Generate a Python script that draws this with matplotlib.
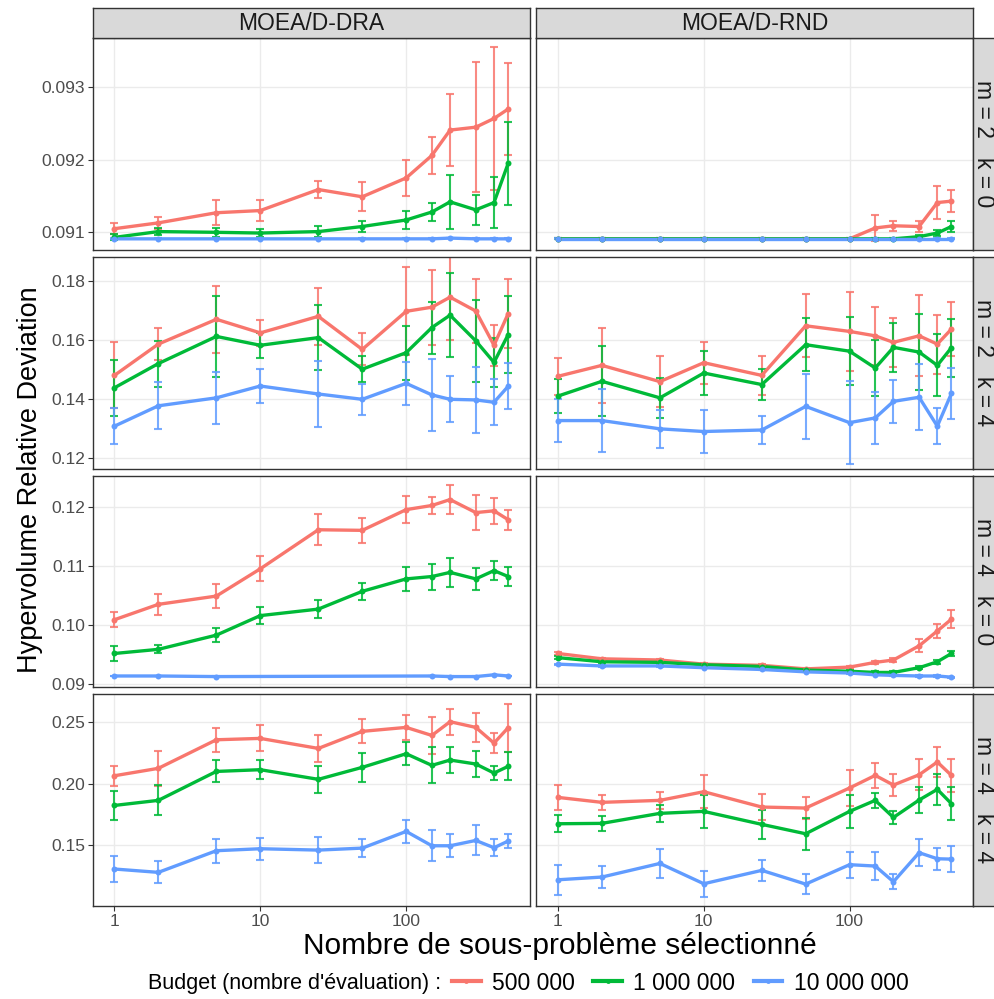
import numpy as np
import matplotlib
matplotlib.use("Agg")
import matplotlib.pyplot as plt
from matplotlib.lines import Line2D

plt.rcParams['font.family'] = ['Liberation Sans', 'DejaVu Sans']

# ---------------- data ----------------
x_values = [1, 2, 5, 10, 25, 50, 100, 150, 200, 300, 400, 500]
budgets = ["500 000", "1 000 000", "10 000 000"]
colors = ["#F8766D", "#00BA38", "#619CFF"]
algorithms = ["MOEA/D-DRA", "MOEA/D-RND"]
row_labels = ["m = 2   k = 0", "m = 2   k = 4", "m = 4   k = 0", "m = 4   k = 4"]

# m=2 k=0
dra_m2k0 = [
    [0.09105, 0.09113, 0.09127, 0.09130, 0.09159, 0.09149, 0.09175, 0.09206, 0.09241, 0.09245, 0.09257, 0.09270],
    [0.09093, 0.09101, 0.09100, 0.09099, 0.09101, 0.09108, 0.09117, 0.09128, 0.09142, 0.09131, 0.09141, 0.09195],
    [0.09091, 0.09091, 0.09091, 0.09091, 0.09091, 0.09091, 0.09091, 0.09091, 0.09092, 0.09091, 0.09091, 0.09091],
]
dra_m2k0_sd = [
    [0.00008, 0.00008, 0.00017, 0.00014, 0.00012, 0.00020, 0.00025, 0.00025, 0.00050, 0.00090, 0.00098, 0.00064],
    [0.00004, 0.00005, 0.00006, 0.00006, 0.00008, 0.00008, 0.00013, 0.00012, 0.00037, 0.00021, 0.00035, 0.00057],
    [0.000005, 0.000005, 0.000005, 0.000005, 0.000005, 0.000005, 0.000005, 0.000005, 0.000005, 0.000005, 0.000005, 0.000005],
]
rnd_m2k0 = [
    [0.09091, 0.09091, 0.09091, 0.09091, 0.09091, 0.09091, 0.09091, 0.09106, 0.09109, 0.09108, 0.09141, 0.09143],
    [0.09091, 0.09091, 0.09091, 0.09091, 0.09091, 0.09091, 0.09091, 0.09091, 0.09091, 0.09094, 0.09099, 0.09108],
    [0.09091, 0.09091, 0.09091, 0.09091, 0.09091, 0.09091, 0.09091, 0.09091, 0.09091, 0.09091, 0.09091, 0.09091],
]
rnd_m2k0_sd = [
    [0.000005, 0.000005, 0.000005, 0.000005, 0.000005, 0.000005, 0.000005, 0.00018, 0.00007, 0.00008, 0.00023, 0.00015],
    [0.000005, 0.000005, 0.000005, 0.000005, 0.000005, 0.000005, 0.000005, 0.00001, 0.00001, 0.00002, 0.00004, 0.00008],
    [0.000005, 0.000005, 0.000005, 0.000005, 0.000005, 0.000005, 0.000005, 0.000005, 0.000005, 0.000005, 0.000005, 0.000005],
]
# m=2 k=4
dra_m2k4 = [
    [0.1480, 0.1586, 0.1670, 0.1624, 0.1680, 0.1568, 0.1697, 0.1711, 0.1745, 0.1698, 0.1582, 0.1689],
    [0.1438, 0.1520, 0.1612, 0.1582, 0.1608, 0.1501, 0.1557, 0.1642, 0.1684, 0.1597, 0.1524, 0.1618],
    [0.1308, 0.1377, 0.1404, 0.1444, 0.1417, 0.1399, 0.1453, 0.1414, 0.1399, 0.1397, 0.1389, 0.1443],
]
dra_m2k4_sd = [
    [0.0112, 0.0054, 0.0114, 0.0043, 0.0097, 0.0054, 0.0149, 0.0127, 0.0144, 0.0108, 0.0070, 0.0117],
    [0.0094, 0.0078, 0.0136, 0.0043, 0.0111, 0.0045, 0.0092, 0.0088, 0.0142, 0.0139, 0.0083, 0.0130],
    [0.0062, 0.0080, 0.0087, 0.0058, 0.0111, 0.0052, 0.0073, 0.0122, 0.0078, 0.0112, 0.0078, 0.0078],
]
rnd_m2k4 = [
    [0.1477, 0.1514, 0.1459, 0.1523, 0.1480, 0.1648, 0.1629, 0.1614, 0.1592, 0.1614, 0.1586, 0.1637],
    [0.1410, 0.1460, 0.1404, 0.1488, 0.1449, 0.1584, 0.1562, 0.1505, 0.1575, 0.1559, 0.1514, 0.1574],
    [0.1327, 0.1327, 0.1299, 0.1290, 0.1295, 0.1375, 0.1320, 0.1336, 0.1392, 0.1406, 0.1308, 0.1419],
]
rnd_m2k4_sd = [
    [0.0062, 0.0126, 0.0086, 0.0071, 0.0065, 0.0106, 0.0133, 0.0099, 0.0084, 0.0137, 0.0100, 0.0092],
    [0.0059, 0.0118, 0.0067, 0.0075, 0.0051, 0.0089, 0.0116, 0.0095, 0.0083, 0.0128, 0.0105, 0.0098],
    [0.0074, 0.0106, 0.0065, 0.0074, 0.0048, 0.0110, 0.0141, 0.0089, 0.0073, 0.0112, 0.0061, 0.0085],
]
# m=4 k=0
dra_m4k0 = [
    [0.1009, 0.1035, 0.1049, 0.1095, 0.1161, 0.1160, 0.1195, 0.1202, 0.1212, 0.1190, 0.1193, 0.1178],
    [0.0952, 0.0959, 0.0983, 0.1016, 0.1027, 0.1057, 0.1078, 0.1082, 0.1089, 0.1078, 0.1092, 0.1082],
    [0.0914, 0.0914, 0.0913, np.nan, np.nan, np.nan, np.nan, 0.0914, 0.0913, 0.0913, 0.0916, 0.0914],
]
dra_m4k0_sd = [
    [0.0013, 0.0018, 0.0020, 0.0021, 0.0026, 0.0021, 0.0023, 0.0015, 0.0025, 0.0030, 0.0022, 0.0017],
    [0.0012, 0.0007, 0.0012, 0.0015, 0.0015, 0.0014, 0.0020, 0.0022, 0.0025, 0.0019, 0.0016, 0.0016],
    [0.00005, 0.00005, 0.00005, np.nan, np.nan, np.nan, np.nan, 0.00005, 0.00005, 0.00005, 0.00005, 0.00005],
]
rnd_m4k0 = [
    [0.0952, 0.0943, 0.0941, 0.0934, 0.0932, 0.0926, 0.0929, 0.0937, 0.0941, 0.0965, 0.0990, 0.1010],
    [0.0945, 0.0938, 0.0937, 0.0933, 0.0930, 0.0924, 0.0922, 0.0920, 0.0920, 0.0928, 0.0938, 0.0952],
    [0.0934, 0.0931, 0.0931, 0.0928, 0.0925, 0.0921, 0.0919, 0.0916, 0.0915, 0.0914, 0.0914, 0.0912],
]
rnd_m4k0_sd = [
    [0.0002, 0.0002, 0.0002, 0.0002, 0.0002, 0.0002, 0.0002, 0.0003, 0.0004, 0.0011, 0.0012, 0.0015],
    [0.0002, 0.0002, 0.0002, 0.0002, 0.0002, 0.0002, 0.0002, 0.0002, 0.0002, 0.0003, 0.0003, 0.0004],
    [0.0001, 0.0001, 0.0001, 0.0001, 0.0001, 0.0001, 0.0001, 0.0001, 0.0001, 0.0001, 0.0001, 0.0001],
]
# m=4 k=4
dra_m4k4 = [
    [0.2063, 0.2123, 0.2354, 0.2365, 0.2284, 0.2422, 0.2454, 0.2389, 0.2500, 0.2454, 0.2327, 0.2451],
    [0.1823, 0.1864, 0.2098, 0.2112, 0.2034, 0.2131, 0.2241, 0.2147, 0.2190, 0.2158, 0.2085, 0.2139],
    [0.1309, 0.1282, 0.1457, 0.1473, 0.1462, 0.1478, 0.1613, 0.1497, 0.1497, 0.1540, 0.1481, 0.1535],
]
dra_m4k4_sd = [
    [0.0081, 0.0141, 0.0098, 0.0105, 0.0110, 0.0097, 0.0100, 0.0148, 0.0105, 0.0116, 0.0082, 0.0194],
    [0.0115, 0.0121, 0.0089, 0.0075, 0.0110, 0.0118, 0.0094, 0.0146, 0.0106, 0.0105, 0.0057, 0.0113],
    [0.0108, 0.0089, 0.0098, 0.0089, 0.0105, 0.0075, 0.0096, 0.0124, 0.0094, 0.0121, 0.0067, 0.0057],
]
rnd_m4k4 = [
    [0.1888, 0.1848, 0.1864, 0.1934, 0.1810, 0.1802, 0.1964, 0.2066, 0.1988, 0.2071, 0.2174, 0.2066],
    [0.1675, 0.1678, 0.1759, 0.1775, 0.1670, 0.1594, 0.1775, 0.1864, 0.1726, 0.1867, 0.1953, 0.1837],
    [0.1222, 0.1244, 0.1354, 0.1190, 0.1298, 0.1187, 0.1344, 0.1333, 0.1206, 0.1441, 0.1392, 0.1389],
]
rnd_m4k4_sd = [
    [0.0104, 0.0058, 0.0066, 0.0135, 0.0105, 0.0091, 0.0143, 0.0102, 0.0089, 0.0125, 0.0121, 0.0132],
    [0.0070, 0.0059, 0.0069, 0.0136, 0.0115, 0.0131, 0.0136, 0.0062, 0.0049, 0.0108, 0.0124, 0.0133],
    [0.0121, 0.0092, 0.0116, 0.0105, 0.0086, 0.0078, 0.0106, 0.0111, 0.0060, 0.0110, 0.0089, 0.0108],
]

row_ticks = [[0.091, 0.092, 0.093], [0.12, 0.14, 0.16, 0.18],
             [0.09, 0.10, 0.11, 0.12], [0.15, 0.20, 0.25]]
row_ticklabels = [["0.091", "0.092", "0.093"], ["0.12", "0.14", "0.16", "0.18"],
                  ["0.09", "0.10", "0.11", "0.12"], ["0.15", "0.20", "0.25"]]
row_ylims = [(0.090756, 0.09368), (0.1163, 0.1881), (0.08954, 0.12518), (0.101, 0.2724)]
x_ticks = [1, 10, 100]
x_ticklabels = ["1", "10", "100"]

panels = [
    [(dra_m2k0, dra_m2k0_sd), (rnd_m2k0, rnd_m2k0_sd)],
    [(dra_m2k4, dra_m2k4_sd), (rnd_m2k4, rnd_m2k4_sd)],
    [(dra_m4k0, dra_m4k0_sd), (rnd_m4k0, rnd_m4k0_sd)],
    [(dra_m4k4, dra_m4k4_sd), (rnd_m4k4, rnd_m4k4_sd)],
]

# ---------------- layout ----------------
W, H = 995, 999
fig = plt.figure(figsize=(W / 100, H / 100), dpi=100)
fig.patch.set_facecolor("white")

def rect(x0, y0, x1, y1):
    return [x0 / W, 1 - y1 / H, (x1 - x0) / W, (y1 - y0) / H]

col_x = [(92.7, 530.0), (536.3, 973.3)]
row_y = [(38, 250), (257, 469), (476, 687), (694, 906)]
strip_top = (8, 38)
strip_right = (973.3, 995)

dark = "#333333"
tickc = "#4D4D4D"
grid = "#EBEBEB"
stripfill = "#D9D9D9"

xs = np.array(x_values, dtype=float)

for r in range(4):
    for c in range(2):
        ax = fig.add_axes(rect(col_x[c][0], row_y[r][0], col_x[c][1], row_y[r][1]))
        ax.set_xscale("log")
        ax.set_xlim(0.71, 706)
        ax.set_ylim(*row_ylims[r])
        ax.set_facecolor("white")
        ax.grid(True, which="major", color=grid, linewidth=1.0)
        ax.set_axisbelow(True)
        ax.minorticks_off()
        ax.set_xticks(x_ticks)
        ax.set_yticks(row_ticks[r])
        for sp in ax.spines.values():
            sp.set_color(dark)
            sp.set_linewidth(1.0)
        ax.tick_params(axis="both", which="major", length=3.5, width=0.8, color=dark,
                       labelcolor=tickc, labelsize=12.5, pad=2)
        if r == 3:
            ax.set_xticklabels(x_ticklabels)
        else:
            ax.tick_params(axis="x", labelbottom=False, length=0)
        if c == 0:
            ax.set_yticklabels(row_ticklabels[r])
        else:
            ax.tick_params(axis="y", labelleft=False, length=0)

        means, sds = panels[r][c]
        # error bars
        for i in range(3):
            m = np.array(means[i], dtype=float)
            s = np.array(sds[i], dtype=float)
            ok = ~np.isnan(m)
            ax.errorbar(xs[ok], m[ok], yerr=s[ok], fmt="none", ecolor=colors[i],
                        elinewidth=1.5, capsize=3.2, capthick=1.5, alpha=0.85, zorder=2)
        # lines
        for i in range(3):
            m = np.array(means[i], dtype=float)
            ok = ~np.isnan(m)
            ax.plot(xs[ok], m[ok], color=colors[i], linewidth=2.4, zorder=3,
                    solid_joinstyle="round", solid_capstyle="round")
        # points
        for i in range(3):
            m = np.array(means[i], dtype=float)
            ok = ~np.isnan(m)
            ax.plot(xs[ok], m[ok], linestyle="none", marker="o", markersize=4.3,
                    color=colors[i], markeredgewidth=0, zorder=4)

        if r == 0:
            sax = fig.add_axes(rect(col_x[c][0], strip_top[0], col_x[c][1], strip_top[1]))
            sax.set_facecolor(stripfill)
            sax.set_xticks([]); sax.set_yticks([])
            for sp in sax.spines.values():
                sp.set_color(dark); sp.set_linewidth(1.0)
            sax.text(0.5, 0.47, algorithms[c], ha="center", va="center",
                     fontsize=16.5, color="#1A1A1A", transform=sax.transAxes)
        if c == 1:
            sax = fig.add_axes(rect(strip_right[0], row_y[r][0], strip_right[1] + 5, row_y[r][1]))
            sax.set_facecolor(stripfill)
            sax.set_xticks([]); sax.set_yticks([])
            for sp in sax.spines.values():
                sp.set_color(dark); sp.set_linewidth(1.0)
            sax.text(0.45 * (strip_right[1] - strip_right[0]) / (strip_right[1] + 5 - strip_right[0]),
                     0.5, row_labels[r], ha="center", va="center", rotation=-90,
                     fontsize=16.5, color="#1A1A1A", transform=sax.transAxes)

# axis titles
fig.text(30 / W, 1 - 480 / H, "Hypervolume Relative Deviation", rotation=90,
         ha="center", va="center", fontsize=19.5, color="black")
fig.text(560 / W, 1 - 946 / H, "Nombre de sous-problème sélectionné",
         ha="center", va="center", fontsize=21.5, color="black")

# legend
fig.text(148 / W, 1 - 983 / H, "Budget (nombre d'évaluation) :", ha="left", va="center",
         fontsize=15.5, color="black")
handles = [Line2D([0], [0], color=col, linewidth=3, marker="o", markersize=3.5,
                  markeredgewidth=0) for col in colors]
fig.legend(handles, budgets, loc="center left", bbox_to_anchor=(452 / W, 1 - 983 / H),
           ncol=3, frameon=False, fontsize=16.5, handlelength=1.25, handletextpad=0.5,
           columnspacing=0.8, borderpad=0, borderaxespad=0)

fig.savefig("out.png", dpi=100, facecolor="white")
